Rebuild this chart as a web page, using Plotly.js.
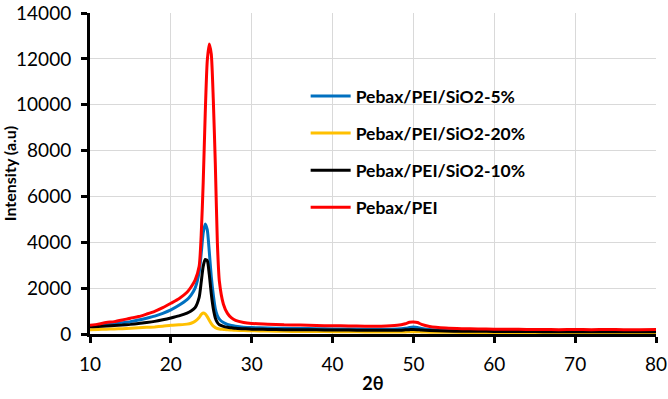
<!DOCTYPE html>
<html>
<head>
<meta charset="utf-8">
<script src="https://cdn.plot.ly/plotly-3.0.1.min.js"></script>
<style>html,body{margin:0;padding:0;background:#fff;}#chart{width:668px;height:399px;}</style>
</head>
<body>
<div id="chart"></div>
<script>
// 2θ positions (degrees)
const theta = [10,11,12,13,14,15,16,17,18,19,20,21,22,22.5,23,23.5,23.75,24,24.25,24.5,24.75,25,25.25,25.5,25.75,26,26.5,27,27.5,28,29,30,32,34,36,38,40,42,44,46,48,49,49.5,50,50.5,51,52,54,56,58,60,62,64,66,68,70,72,74,76,78,80];

const seriesNames = ["Pebax/PEI/SiO2-5%", "Pebax/PEI/SiO2-20%", "Pebax/PEI/SiO2-10%", "Pebax/PEI"];

const sio2_5 = [340,370,400,440,490,540,610,690,780,900,1050,1250,1500,1700,2000,2700,3500,4400,4800,4550,3600,2500,1700,1100,800,650,500,420,370,340,300,280,260,250,240,230,220,220,210,210,220,250,280,300,280,240,200,170,160,150,150,150,140,140,140,140,140,130,140,130,130];

const sio2_20 = [190,200,210,220,230,250,270,290,310,340,380,400,430,470,560,720,850,920,880,760,600,450,340,280,240,220,200,180,170,160,150,140,130,120,110,110,100,100,90,90,90,90,100,100,100,90,80,80,70,70,70,70,60,60,60,60,60,60,60,60,60];

const sio2_10 = [320,330,350,370,390,420,460,500,550,620,700,790,910,1000,1150,1600,2250,2950,3250,3200,2600,1750,1100,700,500,400,330,290,270,250,230,210,200,190,180,180,170,170,160,160,160,180,190,200,190,170,150,130,120,120,110,110,110,100,100,100,100,100,100,100,100];

const pebaxPei = [380,430,500,540,610,690,760,870,990,1150,1340,1540,1820,2050,2350,2950,4300,6600,9600,11900,12650,12200,10200,7400,4000,2300,1300,900,700,590,500,460,430,400,390,370,360,350,340,340,380,450,510,520,500,420,330,260,230,220,210,210,200,200,190,200,190,200,190,190,200];

const yTicks = [0,2000,4000,6000,8000,10000,12000,14000];
const xTicks = [10,20,30,40,50,60,70,80];

const colors = ["#0070C0", "#FFC000", "#000000", "#FF0000"];
const ys = [sio2_5, sio2_20, sio2_10, pebaxPei];

const traces = ys.map((y, i) => ({
  x: theta, y: y, type: "scatter", mode: "lines",
  name: seriesNames[i], legendgroup: "g" + i,
  line: {color: colors[i], width: 3, shape: "spline", smoothing: 0.6}
}));

const font = "Lato, 'Open Sans', sans-serif";

const layout = {
  width: 668, height: 399,
  margin: {l: 90, r: 12, t: 13, b: 65},
  paper_bgcolor: "#fff", plot_bgcolor: "#fff",
  font: {family: font, color: "#000", size: 19},
  showlegend: true,
  legend: {
    x: 0.381, y: 0.797, xanchor: "left", yanchor: "top",
    bgcolor: "rgba(0,0,0,0)", borderwidth: 0,
    font: {family: font, size: 17.5, color: "#000", weight: "bold"},
    tracegroupgap: 11.3, itemwidth: 40
  },
  xaxis: {
    range: [10, 80], tickvals: xTicks, ticktext: xTicks.map(String),
    showgrid: true, gridcolor: "#d9d9d9", gridwidth: 1,
    showline: true, linecolor: "#000", linewidth: 3,
    ticks: "outside", ticklen: 6, tickwidth: 3, tickcolor: "#000",
    ticklabelstandoff: 5,
    zeroline: false, tickfont: {family: font, size: 19, color: "#000"},
    title: {text: "<b>2θ</b>", font: {family: font, size: 18, color: "#000"}, standoff: 4}
  },
  yaxis: {
    range: [0, 14000], tickvals: yTicks, ticktext: yTicks.map(String),
    showgrid: true, gridcolor: "#d9d9d9", gridwidth: 1,
    showline: true, linecolor: "#000", linewidth: 3,
    ticks: "outside", ticklen: 6, tickwidth: 3, tickcolor: "#000",
    ticklabelstandoff: 6,
    zeroline: false, tickfont: {family: font, size: 19, color: "#000"},
    title: {text: "<b>Intensity (a.u)</b>", font: {family: font, size: 16, color: "#000"}, standoff: 0}
  }
};

Plotly.newPlot("chart", traces, layout, {staticPlot: true, displayModeBar: false});
</script>
</body>
</html>
